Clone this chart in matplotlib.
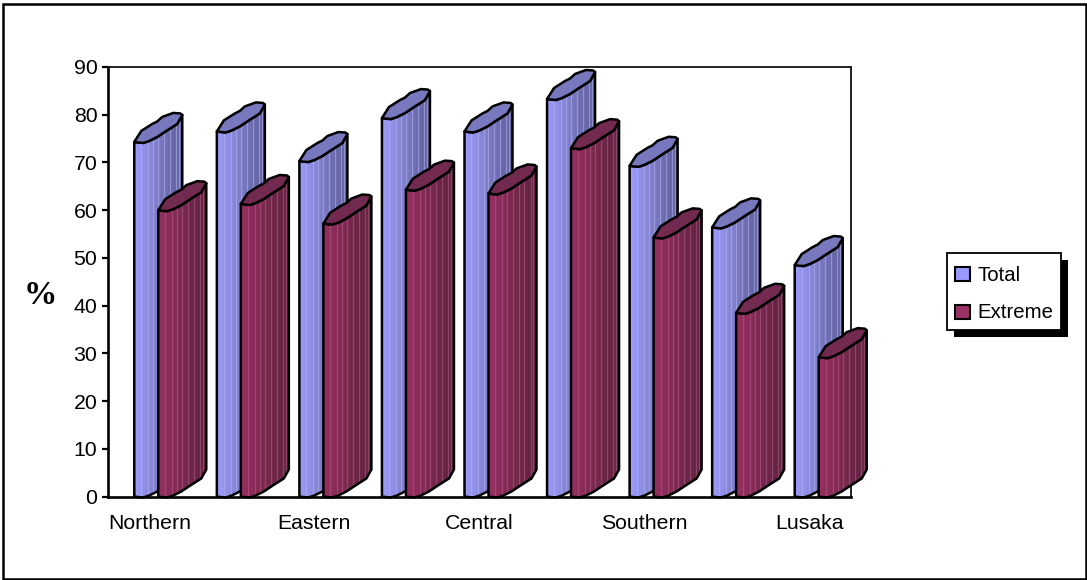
import numpy as np
import matplotlib
matplotlib.use('Agg')
import matplotlib.pyplot as plt
from matplotlib.patches import Polygon, Rectangle
from matplotlib.colors import LinearSegmentedColormap

categories = ['Northern', '', 'Eastern', '', 'Central', '', 'Southern', '', 'Lusaka']
total = [74.3, 76.5, 70.3, 79.3, 76.5, 83.3, 69.3, 56.4, 48.5]
extreme = [60, 61.3, 57.2, 64.3, 63.5, 73, 54.3, 38.5, 29.2]
yticks = [0, 10, 20, 30, 40, 50, 60, 70, 80, 90]

W, H = 1087, 580
ax_l, ax_r, ax_t, ax_b = 108, 851, 67, 496.5
font = 'Liberation Sans'
fs = 15.3

plt.rcParams['font.family'] = font
fig = plt.figure(figsize=(W/100, H/100), dpi=100, facecolor='white')
ax = fig.add_axes([ax_l/W, 1-ax_b/H, (ax_r-ax_l)/W, (ax_b-ax_t)/H])
ax.set_xlim(-0.5, 8.5)
ax.set_ylim(0, 90)

# pixel sizes of one data unit, the 3d profile is given in pixels
px_x = (ax_r-ax_l)/9.
px_y = (ax_b-ax_t)/90.

# front edge of the tube, left to right, then its rear edge back again
front = np.array([(0, 0), (4, 0.6), (9, 1), (15, -1), (23, -5), (32, -11), (43, -18), (48, -27)], float)
rear = np.array([(48, -27), (46, -28.5), (39, -29), (28, -25), (23, -20.5), (18, -18), (7, -11), (0, 0)], float)
ribs = [7, 14, 19, 24, 30, 36, 42, 45]

blue = LinearSegmentedColormap.from_list('b', ['#9c9cfa', '#8e8ee6', '#7c7cc6', '#6a6aae', '#62629f'])
red = LinearSegmentedColormap.from_list('r', ['#96305f', '#8c2c5a', '#7a284f', '#6a2546', '#622340'])


def tube(xc, val, dx, cmap, capcol, ribcol, z):
    x0 = xc + dx/px_x
    # outline of the body: top front edge, down the right side, bottom edge back
    top = front*[1/px_x, -1/px_y] + [x0, val]
    bot = front*[1/px_x, -1/px_y] + [x0, 0]
    body = np.vstack([top, bot[::-1]])
    poly = Polygon(body, closed=True, fc='none', ec='none', transform=ax.transData, clip_on=False)
    ax.add_patch(poly)
    grad = np.linspace(0, 1, 64).reshape(1, -1)
    im = ax.imshow(grad, cmap=cmap, aspect='auto', zorder=z, interpolation='bilinear',
                   extent=[x0, x0+48/px_x, -8, val+8])
    # the tubes stand out past the wall, so only the outline may clip them
    im.set_clip_box(fig.bbox)
    im.set_clip_path(poly)
    for r in ribs:
        ln, = ax.plot([x0+r/px_x]*2, [-8, val+8], color=ribcol, lw=0.9, zorder=z+0.1, alpha=0.55)
        ln.set_clip_box(fig.bbox)
        ln.set_clip_path(poly)
    cap = np.vstack([top, rear*[1/px_x, -1/px_y] + [x0, val]])
    ax.add_patch(Polygon(body, closed=True, fc='none', ec='black', lw=1.8, zorder=z+0.2,
                         joinstyle='round', clip_on=False))
    ax.add_patch(Polygon(cap, closed=True, fc=capcol, ec='black', lw=1.8, zorder=z+0.3,
                         joinstyle='round', clip_on=False))


# bars are drawn left to right so the extreme tube sits in front of the total one
for i in range(len(total)):
    tube(i, total[i], -15, blue, '#7878bf', '#b4b4ee', 3+2*i)
    tube(i, extreme[i], 9, red, '#722a50', '#b0608c', 4+2*i)

ax.set_xlim(-0.5, 8.5)
ax.set_ylim(0, 90)
ax.set_xticks(range(len(categories)))
ax.set_xticklabels(categories, fontsize=fs, color='black')
ax.tick_params(axis='x', length=0, pad=12.5)
ax.set_yticks(yticks)
ax.tick_params(axis='y', length=4.5, width=1.6, labelsize=fs, pad=3.2)
for s in ['left', 'bottom']:
    ax.spines[s].set_linewidth(1.9)
    ax.spines[s].set_zorder(40)
for s in ['top', 'right']:
    ax.spines[s].set_linewidth(1.4)
    ax.spines[s].set_color('#222222')
    ax.spines[s].set_zorder(1)
fig.text(40/W, 1-295.5/H, '%', fontsize=24, fontweight='bold', family='Liberation Serif',
         ha='center', va='center')


def px_rect(x0, y0, x1, y1, **kw):
    fig.add_artist(Rectangle((x0/W, 1-y1/H), (x1-x0)/W, (y1-y0)/H, transform=fig.transFigure, **kw))


# outer frame
px_rect(3, 4, 1085.5, 578.5, fc='none', ec='black', lw=1.8)

# legend with its drop shadow
px_rect(954, 260, 1068, 337, fc='black', ec='none')
px_rect(947, 253, 1061, 330, fc='white', ec='black', lw=1.3)
px_rect(955, 266.5, 970, 281, fc='#9999ff', ec='black', lw=1.5)
px_rect(955, 304.5, 970, 319, fc='#993366', ec='black', lw=1.5)
fig.text(977/W, 1-275.5/H, 'Total', fontsize=14.7, va='center', ha='left')
fig.text(977/W, 1-313/H, 'Extreme', fontsize=14.7, va='center', ha='left')

plt.savefig('out.png', dpi=100)
